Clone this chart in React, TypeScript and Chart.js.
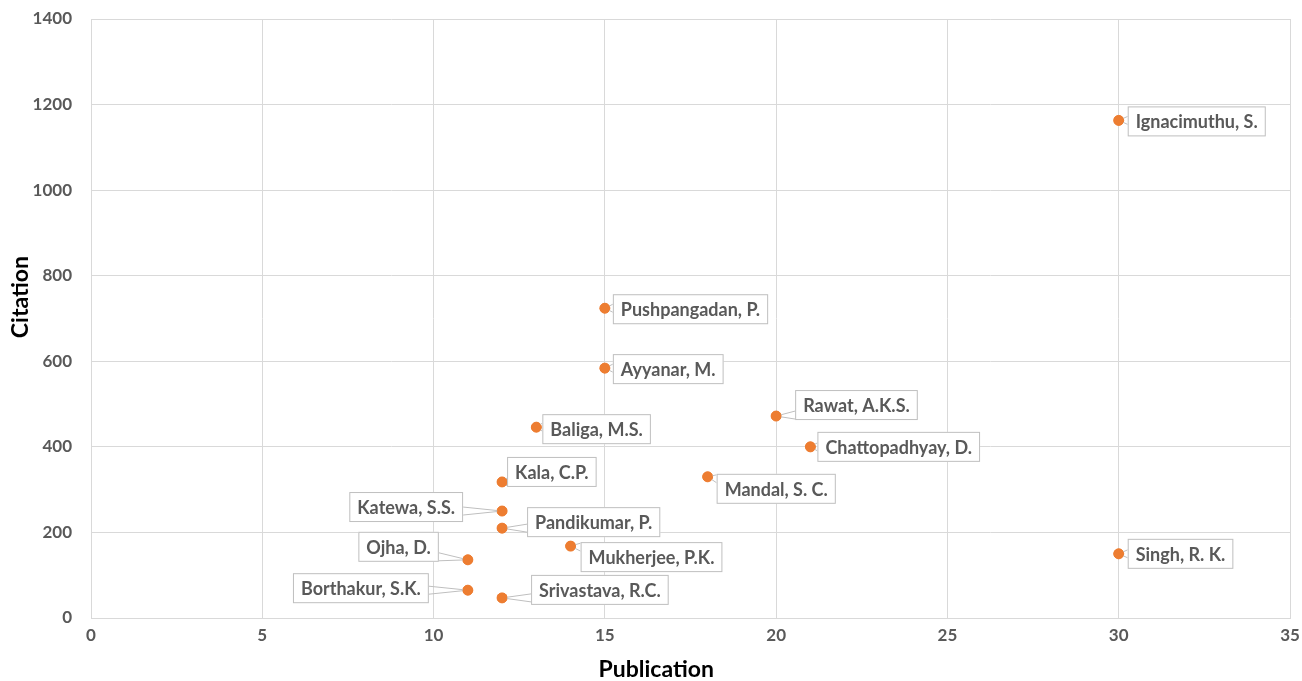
import { useEffect, useRef } from 'react';
import { Chart, ChartConfiguration, Plugin, registerables } from 'chart.js';

Chart.register(...registerables);

// Data
const authors = [
  'Ignacimuthu, S.', 'Pushpangadan, P.', 'Ayyanar, M.', 'Rawat, A.K.S.', 'Baliga, M.S.',
  'Chattopadhyay, D.', 'Kala, C.P.', 'Mandal, S. C.', 'Katewa, S.S.', 'Pandikumar, P.',
  'Mukherjee, P.K.', 'Singh, R. K.', 'Ojha, D.', 'Borthakur, S.K.', 'Srivastava, R.C.',
];
const publications = [30, 15, 15, 20, 13, 21, 12, 18, 12, 12, 14, 30, 11, 11, 12];
const citations = [1163, 724, 584, 472, 446, 400, 318, 330, 250, 210, 168, 150, 136, 65, 47];
const xTitle = 'Publication';
const yTitle = 'Citation';

// label placement: side (1 = right of point, -1 = left), near-edge gap, vertical shift
const labelSide = [1, 1, 1, 1, 1, 1, 1, 1, -1, 1, 1, 1, -1, -1, 1];
const labelGap = [9, 8, 8, 19, 6, 7, 5, 9, 39, 25, 10, 9, 29, 39, 29];
const labelShift = [1, 1, 1, -11, 2, 0, -10, 12, -4, -6, 11, 0, -13, -2, -8];

const FONT = 'Lato, "Open Sans", sans-serif';

const calloutPlugin: Plugin = {
  id: 'callouts',
  afterDatasetsDraw(chart) {
    const { ctx } = chart;
    const meta = chart.getDatasetMeta(0);
    ctx.save();
    ctx.font = `bold 18px ${FONT}`;
    ctx.textBaseline = 'middle';
    meta.data.forEach((pt, i) => {
      const px = pt.x;
      const py = pt.y;
      const w = ctx.measureText(authors[i]).width + 16;
      const h = 30;
      const left = labelSide[i] > 0 ? px + labelGap[i] : px - labelGap[i] - w;
      const top = py + labelShift[i] - h / 2;
      // leader wedge to nearest box edge
      const ex = labelSide[i] > 0 ? left : left + w;
      const ey = Math.min(Math.max(py, top + 5), top + h - 5);
      ctx.strokeStyle = '#bfbfbf';
      ctx.lineWidth = 1;
      ctx.beginPath();
      ctx.moveTo(ex, ey - 4);
      ctx.lineTo(px, py);
      ctx.lineTo(ex, ey + 4);
      ctx.stroke();
      ctx.fillStyle = '#ffffff';
      ctx.fillRect(left, top, w, h);
      ctx.strokeRect(left + 0.5, top + 0.5, w - 1, h - 1);
      ctx.fillStyle = '#595959';
      ctx.textAlign = 'left';
      ctx.fillText(authors[i], left + 8, top + h / 2 + 1);
    });
    // redraw points on top of leader lines
    meta.data.forEach((pt) => {
      ctx.fillStyle = '#ED7D31';
      ctx.beginPath();
      ctx.arc(pt.x, pt.y, 5, 0, Math.PI * 2);
      ctx.fill();
    });

    // axis titles (offset from centre as in the original)
    const xs = chart.scales.x;
    const ys = chart.scales.y;
    ctx.fillStyle = '#000000';
    ctx.font = `bold 23px ${FONT}`;
    ctx.textAlign = 'center';
    ctx.fillText(xTitle, xs.getPixelForValue(16.5), chart.height - 11);
    ctx.translate(21, ys.getPixelForValue(750));
    ctx.rotate(-Math.PI / 2);
    ctx.fillText(yTitle, 0, 0);
    ctx.restore();
  },
};

const App = () => {
  const canvasRef = useRef<HTMLCanvasElement>(null);
  const chartRef = useRef<Chart | null>(null);

  useEffect(() => {
    if (!canvasRef.current) return;
    document.body.style.margin = '0';
    const ctx = canvasRef.current.getContext('2d');
    if (!ctx) return;

    const config: ChartConfiguration = {
      type: 'scatter',
      data: {
        datasets: [
          {
            label: yTitle,
            data: publications.map((p, i) => ({ x: p, y: citations[i] })),
            backgroundColor: '#ED7D31',
            borderColor: '#ED7D31',
            pointRadius: 5,
            pointHoverRadius: 5,
          },
        ],
      },
      options: {
        responsive: false,
        animation: false,
        layout: { padding: { top: 19, right: 12, left: 0, bottom: 0 } },
        plugins: {
          legend: { display: false },
          tooltip: { enabled: false },
        },
        scales: {
          x: {
            type: 'linear',
            min: 0,
            max: 35,
            afterFit: (scale: any) => {
              scale.height = 63;
              scale.paddingLeft = 0;
              scale.paddingRight = 0;
            },
            grid: { color: '#d9d9d9', drawTicks: false },
            border: { color: '#d9d9d9' },
            ticks: {
              stepSize: 5,
              padding: 7,
              color: '#595959',
              font: { family: FONT, size: 17, weight: 'bold' },
            },
          },
          y: {
            min: 0,
            max: 1400,
            afterFit: (scale: any) => {
              scale.width = 91;
              scale.paddingTop = 0;
              scale.paddingBottom = 0;
            },
            grid: { color: '#d9d9d9', drawTicks: false },
            border: { color: '#d9d9d9' },
            ticks: {
              stepSize: 200,
              padding: 19,
              color: '#595959',
              font: { family: FONT, size: 17, weight: 'bold' },
              callback: (v) => String(v),
            },
          },
        },
      },
      plugins: [calloutPlugin],
    };

    chartRef.current = new Chart(ctx, config);

    return () => {
      if (chartRef.current) {
        chartRef.current.destroy();
      }
    };
  }, []);

  return (
    <div style={{ width: 1302, height: 681, background: '#ffffff' }}>
      <canvas ref={canvasRef} width={1302} height={681} style={{ width: 1302, height: 681 }}></canvas>
    </div>
  );
};

export default App;
